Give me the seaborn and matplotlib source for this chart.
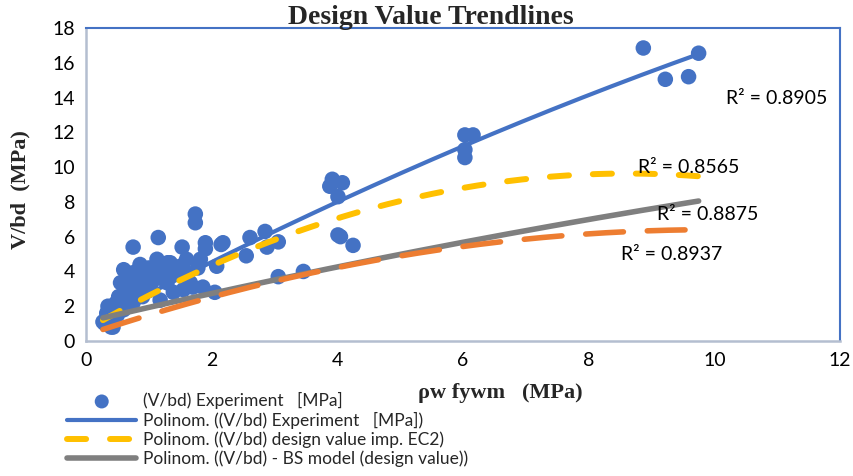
import numpy as np
import pandas as pd
import matplotlib
matplotlib.use("Agg")
import matplotlib.pyplot as plt
import seaborn as sns

# ---------------- data ----------------
exp_x = [0.27, 0.30, 0.33, 0.35, 0.40, 0.43, 0.40, 0.45, 0.48, 0.50, 0.52, 0.55,
         0.58, 0.60, 0.60, 0.62, 0.65, 0.65, 0.70, 0.70, 0.72, 0.75, 0.75, 0.78,
         0.80, 0.82, 0.86, 0.88, 0.90, 0.92, 0.97, 1.00, 1.00, 1.05, 1.10, 1.13,
         1.15, 1.18, 1.20, 1.25, 1.29, 1.30, 1.34, 1.39, 1.40, 1.45, 1.50, 1.53,
         1.55, 1.60, 1.62, 1.66, 1.70, 1.74, 1.74, 1.78, 1.82, 1.86, 1.90, 1.90,
         2.05, 2.08, 2.15, 2.18, 2.55, 2.61, 2.85, 2.88, 3.06, 3.06, 3.46, 3.92,
         3.88, 4.08, 4.01, 4.01, 4.05, 4.25, 6.03, 6.16, 6.03, 6.03, 8.87, 9.22,
         9.59, 9.75]
exp_y = [1.10, 1.00, 1.60, 2.00, 0.80, 0.80, 1.30, 1.80, 2.20, 1.50, 2.55, 3.35,
         2.00, 1.80, 4.10, 3.00, 3.70, 2.50, 2.95, 3.90, 2.20, 5.40, 2.20, 3.40,
         4.00, 2.70, 4.40, 3.10, 2.55, 3.80, 3.70, 4.20, 2.90, 3.40, 4.00, 4.70,
         5.95, 2.35, 3.60, 4.20, 3.35, 4.50, 4.50, 2.80, 3.80, 3.90, 4.30, 5.40,
         2.95, 4.70, 3.90, 3.35, 3.10, 7.30, 6.80, 4.20, 4.70, 3.10, 5.65, 5.30,
         2.80, 4.30, 5.55, 5.65, 4.90, 5.95, 6.30, 5.40, 5.70, 3.70, 4.00, 9.30,
         8.90, 9.10, 8.30, 6.10, 6.00, 5.50, 11.85, 11.85, 11.00, 10.55, 16.85, 15.05,
         15.20, 16.55]

# polynomial (order 2) trendline coefficients: c0 + c1*x + c2*x^2
trend_x_range = [0.27, 9.75]
coef_exp = [0.821, 1.9246, -0.03246]      # blue, R2 = 0.8905
coef_ec2 = [0.646, 2.0857, -0.12105]      # yellow dashed, R2 = 0.8565
coef_bs = [1.104, 0.842, -0.0133]         # grey, R2 = 0.8875
coef_orange = [0.34, 1.2134, -0.0607]     # orange dashed, R2 = 0.8937

r2_labels = ["R² = 0.8905", "R² = 0.8565", "R² = 0.8875", "R² = 0.8937"]
r2_pos = [(10.19, 13.93), (8.79, 10.0), (9.08, 7.28), (8.52, 4.97)]

legend_labels = ["(V/bd) Experiment   [MPa]",
                 "Polinom. ((V/bd) Experiment   [MPa])",
                 "Polinom. ((V/bd) design value imp. EC2)",
                 "Polinom. ((V/bd) - BS model (design value))"]

x_ticks = [0, 2, 4, 6, 8, 10, 12]
y_ticks = [0, 2, 4, 6, 8, 10, 12, 14, 16, 18]

BLUE = "#4472C4"
ORANGE = "#ED7D31"
GREY = "#7F7F7F"
YELLOW = "#FFC000"

# ---------------- figure ----------------
sns.set_style("white")
plt.rcParams["font.family"] = ["Lato", "DejaVu Sans"]

fig = plt.figure(figsize=(8.54, 4.76), dpi=100)
ax = fig.add_axes([86 / 854, 1 - 341 / 476, (840 - 86) / 854, (341 - 28) / 476])

df_exp = pd.DataFrame({"x": exp_x, "y": exp_y})
sns.scatterplot(data=df_exp, x="x", y="y", ax=ax, s=125, color=BLUE,
                edgecolor="none", linewidth=0, zorder=2, label=legend_labels[0])

xs = np.linspace(trend_x_range[0], trend_x_range[1], 200)


def poly(c):
    return c[0] + c[1] * xs + c[2] * xs ** 2


df_tr = pd.DataFrame({"x": xs, "exp": poly(coef_exp), "ec2": poly(coef_ec2),
                      "bs": poly(coef_bs), "orange": poly(coef_orange)})

sns.lineplot(data=df_tr, x="x", y="exp", ax=ax, color=BLUE, lw=3.0, zorder=3,
             label=legend_labels[1], solid_capstyle="round")
l_ec2 = sns.lineplot(data=df_tr, x="x", y="ec2", ax=ax, color=YELLOW, lw=4.3, zorder=4,
                     label=legend_labels[2]).lines[-1]
l_ec2.set_dashes([3.2, 4.0])
l_ec2.set_dash_capstyle("round")
sns.lineplot(data=df_tr, x="x", y="bs", ax=ax, color=GREY, lw=4.0, zorder=5,
             label=legend_labels[3], solid_capstyle="round")
l_or = sns.lineplot(data=df_tr, x="x", y="orange", ax=ax, color=ORANGE, lw=4.0, zorder=6,
                    label="_nolegend_").lines[-1]
l_or.set_dashes([6.8, 4.3])
l_or.set_dash_capstyle("round")

for lab, (px, py) in zip(r2_labels, r2_pos):
    ax.text(px, py, lab, fontsize=14, ha="left", va="center", color="black", zorder=7)

ax.set_xlim(0, 12)
ax.set_ylim(0, 18)
ax.set_xticks(x_ticks)
ax.set_yticks(y_ticks)
ax.tick_params(axis="both", length=0, labelsize=14, pad=8, colors="black")
ax.set_xlabel("")
ax.set_ylabel("")
ax.grid(False)

for side in ["left", "bottom"]:
    ax.spines[side].set_color("#B4BED0")
    ax.spines[side].set_linewidth(1.8)
for side in ["top", "right"]:
    ax.spines[side].set_color(BLUE)
    ax.spines[side].set_linewidth(1.5)

# titles (bold serif)
serif = ["Liberation Serif", "DejaVu Serif"]
fig.text(431 / 854, 1 - 18 / 476, "Design Value Trendlines", family=serif,
         fontweight="bold", fontsize=20, ha="center", va="center")
fig.text(500 / 854, 1 - 393 / 476, "ρw fywm   (MPa)", family=serif,
         fontweight="bold", fontsize=16, ha="center", va="center")
fig.text(20 / 854, 1 - 190 / 476, "V/bd  (MPa)", family=serif,
         fontweight="bold", fontsize=16, ha="center", va="center", rotation=90)

if ax.legend_:
    ax.legend_.remove()
handles, labels = ax.get_legend_handles_labels()
order = [labels.index(l) for l in legend_labels]
leg = fig.legend([handles[i] for i in order], [labels[i] for i in order],
                 loc="upper left", bbox_to_anchor=(67 / 854, 1 - 392 / 476),
                 frameon=False, fontsize=12.5, handlelength=4.0, handletextpad=0.35,
                 labelspacing=0.15, borderpad=0, borderaxespad=0, markerscale=0.9)

fig.savefig("out.png", dpi=100)
